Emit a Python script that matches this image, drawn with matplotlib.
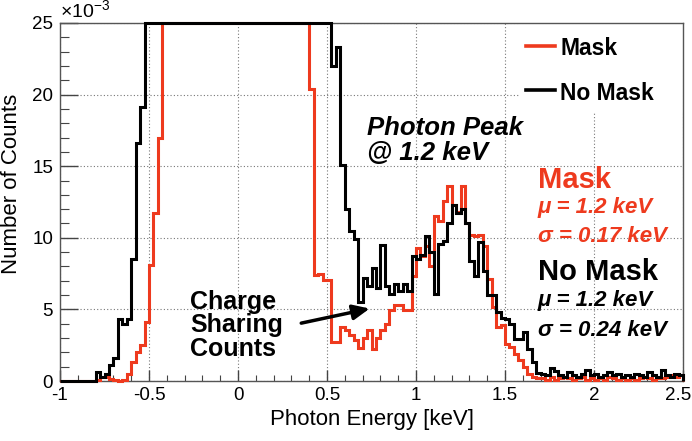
import numpy as np
import matplotlib.pyplot as plt
import matplotlib.transforms as mtransforms
from matplotlib.patches import Rectangle

plt.rcParams['font.family'] = ['Liberation Sans', 'DejaVu Sans']
plt.rcParams['mathtext.fontset'] = 'custom'
plt.rcParams['mathtext.rm'] = 'Liberation Sans'

# binning of the histograms (keV)
bin_lo = -1.0
bin_width = 0.025

# counts per bin in units of 1e-3; bins above the frame are read as 25
no_mask_counts = [
    0, 0, 0, 0, 0, 0, 0, 0,
    0.6, 0.3, 0.5, 1.1, 1.6, 4.3, 4.0, 4.3, 8.5, 16.6, 19.1,
    25, 25, 25, 25, 25, 25, 25, 25, 25, 25, 25, 25, 25, 25,
    25, 25, 25, 25, 25, 25, 25, 25, 25, 25, 25, 25, 25, 25,
    25, 25, 25, 25, 25, 25, 25, 25, 25, 25, 25, 25, 25, 25,
    22.0, 23.3, 15.1, 12.0, 10.5, 9.9, 5.5, 7.2, 6.6, 7.9,
    6.5, 9.5, 6.6, 6.1, 6.8, 6.3, 6.8, 6.3, 8.7,
    8.5, 8.8, 10.1, 9.0, 6.1, 9.6, 9.8, 11.0, 12.3, 11.7,
    12.0, 11.0, 8.4, 7.3, 9.7, 7.7, 6.0, 6.0, 4.8, 4.4,
    4.3, 4.0, 2.9, 2.9, 3.4, 2.2, 1.35, 0.55,
    0.5, 0.4, 0.9, 0.7, 0.4, 0.3, 0.6, 0.4, 0.3, 0.5,
    0.8, 0.4, 0.5, 0.3, 0.4, 0.6, 0.4, 0.5, 0.3, 0.4,
    0.3, 0.5, 0.4, 0.3, 0.6, 0.4, 0.3, 0.8, 0.4, 0.3,
    0.5, 0.4,
]
mask_counts = [
    0, 0, 0, 0, 0, 0, 0, 0,
    0.1, 0.25, 0.25, 0.15, 0.05, 0.0, 0.05,
    0.47, 1.35, 2.05, 2.5, 4.1, 8.1, 11.7, 17.0,
    25, 25, 25, 25, 25, 25, 25, 25, 25, 25, 25,
    25, 25, 25, 25, 25, 25, 25, 25, 25, 25, 25,
    25, 25, 25, 25, 25, 25, 25, 25, 25, 25, 25,
    20.4, 7.4, 7.5, 7.05, 7.05, 2.75, 2.75, 3.8, 3.55, 3.2,
    2.86, 2.3, 3.0, 3.55, 2.2, 3.0, 3.55, 4.0, 4.95, 5.3,
    5.3, 4.95, 4.95,
    7.3, 9.3, 8.7, 9.4, 8.0, 11.5, 11.2, 12.6, 13.6, 12.3,
    11.8, 13.6, 11.0, 10.2, 10.1, 10.2, 9.4, 7.1, 5.2, 3.8,
    3.9, 2.6, 2.4, 1.9, 1.5, 1.0, 0.5, 0.3, 0.2,
    0.2, 0.1, 0.3, 0.1, 0.2, 0.3, 0.2, 0.1, 0.2, 0.3,
    0.1, 0.2, 0.1, 0.2, 0.1, 0.3, 0.2, 0.1, 0.2, 0.1,
    0.2, 0.1, 0.2, 0.3, 0.2, 0.1, 0.2, 0.2, 0.3, 0.4,
    0.3, 0.4,
]

x_ticks = [-1, -0.5, 0, 0.5, 1, 1.5, 2, 2.5]
x_ticklabels = ['-1', '-0.5', '0', '0.5', '1', '1.5', '2', '2.5']
y_ticks = [0, 5, 10, 15, 20, 25]

RED = '#ee3a1e'
W, H = 692, 441


def fpos(x, y):
    # pixel position -> figure fraction
    return x / W, 1 - y / H


fig = plt.figure(figsize=(W / 100, H / 100), dpi=100)
ax = fig.add_axes([60 / W, 1 - 381 / H, 623 / W, 358 / H])

edges = bin_lo + bin_width * np.arange(len(no_mask_counts) + 1)
ax.stairs(mask_counts, edges, color=RED, lw=2.2, clip_on=False, zorder=3)
ax.stairs(no_mask_counts, edges, color='black', lw=2.2, clip_on=False, zorder=4)

ax.set_xlim(-1, 2.5)
ax.set_ylim(0, 25)
ax.set_xticks(x_ticks)
ax.set_xticklabels(x_ticklabels)
ax.set_yticks(y_ticks)
ax.set_xticks(np.arange(-1, 2.51, 0.1), minor=True)
ax.set_yticks(np.arange(0, 25.1, 1), minor=True)
ax.tick_params(axis='both', which='both', direction='in', colors='#444444',
               labelcolor='black', labelsize=13.5)
ax.tick_params(axis='x', which='major', length=8, width=1, pad=4)
ax.tick_params(axis='x', which='minor', length=4.5, width=0.8)
ax.tick_params(axis='y', which='major', length=13, width=1, pad=5)
ax.tick_params(axis='y', which='minor', length=6.5, width=0.8)
ax.grid(True, which='major', color='#777777', lw=0.8, linestyle=(0, (1, 2)))
ax.set_axisbelow(True)
for s in ax.spines.values():
    s.set_color('#555555')
    s.set_linewidth(1)

# keep the last x tick label inside the picture
last = ax.get_xticklabels()[-1]
last.set_transform(last.get_transform() +
                   mtransforms.ScaledTranslation(-5 / 100, 0, fig.dpi_scale_trans))

# white legend box hides the grid behind it
ax.add_patch(Rectangle((1.58, 18.7), 0.92, 6.3, facecolor='white',
                       edgecolor='none', zorder=1))
ax.plot([1.62, 1.78], [23.4, 23.4], color=RED, lw=2.6, zorder=5)
ax.plot([1.62, 1.78], [20.3, 20.3], color='black', lw=2.6, zorder=5)
fig.text(*fpos(560, 55), 'Mask', fontsize=16.5, fontweight='bold')
fig.text(*fpos(560, 100), 'No Mask', fontsize=16.5, fontweight='bold')

fig.text(*fpos(60, 18), r'$\times$10$^{-3}$', fontsize=14)
fig.text(*fpos(372, 420), 'Photon Energy [keV]', fontsize=16,
         ha='center', va='center')
fig.text(*fpos(12, 184), 'Number of Counts', fontsize=16, rotation=90,
         ha='center', va='center')

# annotations
fig.text(*fpos(367, 135), 'Photon Peak', fontsize=18.5,
         fontweight='bold', style='italic')
fig.text(*fpos(367, 160), '@ 1.2 keV', fontsize=18.5,
         fontweight='bold', style='italic')
for txt, yb in [('Charge', 309), ('Sharing', 332), ('Counts', 356)]:
    fig.text(*fpos(190, yb), txt, fontsize=18, fontweight='bold')
ax.annotate('', xy=(0.755, 5.1), xytext=(0.34, 4.0),
            arrowprops=dict(arrowstyle='-|>,head_length=1.0,head_width=0.45',
                            color='black', lw=2.5), zorder=6)

fig.text(*fpos(538, 188), 'Mask', fontsize=21, fontweight='bold', color=RED)
fig.text(*fpos(538, 213), '\u03bc = 1.2 keV', fontsize=16,
         fontweight='bold', style='italic', color=RED)
fig.text(*fpos(538, 242), '\u03c3 = 0.17 keV', fontsize=16,
         fontweight='bold', style='italic', color=RED)
fig.text(*fpos(538, 280), 'No Mask', fontsize=21, fontweight='bold')
fig.text(*fpos(538, 306), '\u03bc = 1.2 keV', fontsize=16,
         fontweight='bold', style='italic')
fig.text(*fpos(538, 336), '\u03c3 = 0.24 keV', fontsize=16,
         fontweight='bold', style='italic')

fig.savefig('out.png', dpi=100)
